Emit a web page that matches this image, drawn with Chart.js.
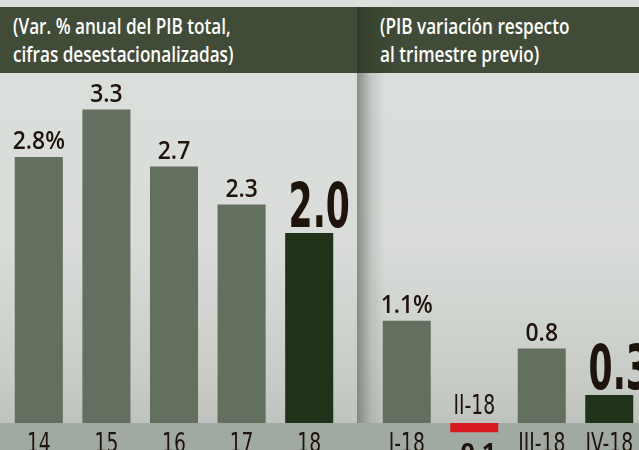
<!DOCTYPE html>
<html lang="es">
<head>
<meta charset="utf-8">
<title>PIB</title>
<script src="https://cdn.jsdelivr.net/npm/chart.js@4/dist/chart.umd.min.js"></script>
<style>
  html, body { margin: 0; padding: 0; }
  body {
    width: 639px; height: 450px; overflow: hidden; position: relative;
    background: #dcdfdc;
  }
  .head {
    position: absolute; top: 7px; height: 66px;
    background: #414c38; color: #fff; overflow: hidden;
  }
  .head span {
    display: block; position: absolute; top: 4px; white-space: nowrap;
    font-family: "Open Sans", sans-serif; font-weight: 600; font-size: 22px; line-height: 28px;
    transform: scaleX(0.78); transform-origin: 0 0;
  }
  #headL { left: 0; width: 357px; }
  #headL span { left: 13px; }
  #headR {
    left: 357px; width: 282px;
    background: linear-gradient(to right, #323d2c 0, #3c4733 22px, #414c38 45px);
  }
  #headR span { left: 23px; }
  .body {
    position: absolute; top: 73px; height: 377px;
    background: linear-gradient(to bottom, #dbdfdc 0, #d9dcd9 170px, #c9cdc7 300px, #bec3bd 350px);
  }
  #bodyL { left: 0; width: 357px; }
  #bodyR {
    left: 357px; width: 282px;
    background:
      linear-gradient(to right, rgba(110,114,108,0.75) 0, rgba(150,154,148,0.35) 14px, rgba(200,204,198,0) 28px),
      linear-gradient(to bottom, #dbdfdc 0, #d9dcd9 170px, #c9cdc7 300px, #bec3bd 350px);
  }
  #axisBand {
    position: absolute; left: 0; top: 423px; width: 639px; height: 27px;
    background: #a1aaa2;
  }
  canvas { position: absolute; top: 73px; }
  #chartL { left: 0; }
  #chartR { left: 357px; }
</style>
</head>
<body>
<div class="head" id="headL"><span>(Var. % anual del PIB total,<br>cifras desestacionalizadas)</span></div>
<div class="head" id="headR"><span>(PIB variación respecto<br>al trimestre previo)</span></div>
<div class="body" id="bodyL"></div>
<div class="body" id="bodyR"></div>
<div id="axisBand"></div>
<canvas id="chartL" width="357" height="377"></canvas>
<canvas id="chartR" width="300" height="377"></canvas>

<script>
  // datos anuales (var. % anual)
  var yearLabels = ['14', '15', '16', '17', '18'];
  var yearValues = [2.8, 3.3, 2.7, 2.3, 2.0];

  // datos trimestrales (var. respecto al trimestre previo)
  var quarterLabels = ['I-18', 'II-18', 'III-18', 'IV-18'];
  var quarterValues = [1.1, -0.1, 0.8, 0.3];

  var GREY = '#636f5f';
  var DARK = '#20321a';
  var RED = '#d91b1f';
  var INK = '#1f140b';
  var NARROW = '"Liberation Sans Narrow", "DejaVu Sans Condensed", sans-serif';

  function barColors(values) {
    return values.map(function (v, i) {
      if (v < 0) return RED;
      return i === values.length - 1 ? DARK : GREY;
    });
  }

  // texto comprimido en horizontal
  function narrowText(ctx, text, x, y, sx) {
    ctx.save();
    ctx.translate(x, y);
    ctx.scale(sx, 1);
    ctx.fillText(text, 0, 0);
    ctx.restore();
  }

  // etiquetas de valores y de categorías dibujadas sobre la escala
  var labelPlugin = {
    id: 'pibLabels',
    afterDatasetsDraw: function (chart) {
      var ctx = chart.ctx;
      var meta = chart.getDatasetMeta(0);
      var values = chart.data.datasets[0].data;
      var cats = chart.data.labels;
      var zero = chart.scales.y.getPixelForValue(0);
      var last = values.length - 1;

      ctx.save();
      ctx.fillStyle = INK;
      ctx.textAlign = 'center';
      ctx.textBaseline = 'alphabetic';

      meta.data.forEach(function (bar, i) {
        var v = values[i];
        var text = v.toFixed(1) + (i === 0 ? '%' : '');
        var x = bar.x;
        var neg = v < 0;

        // categoría
        ctx.font = '26px ' + NARROW;
        narrowText(ctx, cats[i], x, neg ? zero - 9 : zero + 29, 0.8);

        // valor
        if (i === last) {
          ctx.font = 'bold 62px ' + NARROW;
          narrowText(ctx, text, x + 10, bar.y - 6, 0.62);
        } else if (neg) {
          ctx.font = 'bold 25px "Open Sans", sans-serif';
          ctx.fillText(text, x, zero + 38);
        } else {
          ctx.font = '600 26px "Open Sans", sans-serif';
          narrowText(ctx, text, x, bar.y - 8, 0.88);
        }
      });
      ctx.restore();
    }
  };

  function makeChart(id, labels, values, pxPerUnit, pad) {
    var zeroY = 350;       // línea base dentro del lienzo
    var h = 377;
    return new Chart(document.getElementById(id), {
      type: 'bar',
      data: {
        labels: labels,
        datasets: [{
          data: values,
          backgroundColor: barColors(values),
          borderWidth: 0,
          categoryPercentage: 1,
          barPercentage: 0.711
        }]
      },
      options: {
        responsive: false,
        devicePixelRatio: 1,
        animation: false,
        layout: { padding: pad },
        plugins: { legend: { display: false }, tooltip: { enabled: false } },
        scales: {
          x: { display: false },
          y: {
            display: false,
            min: -(h - zeroY) / pxPerUnit,
            max: zeroY / pxPerUnit
          }
        }
      },
      plugins: [labelPlugin]
    });
  }

  makeChart('chartL', yearLabels, yearValues, 95, { left: 5, right: 14, top: 0, bottom: 0 });
  makeChart('chartR', quarterLabels, quarterValues, 93, { left: 16, right: 14, top: 0, bottom: 0 });
</script>
</body>
</html>
